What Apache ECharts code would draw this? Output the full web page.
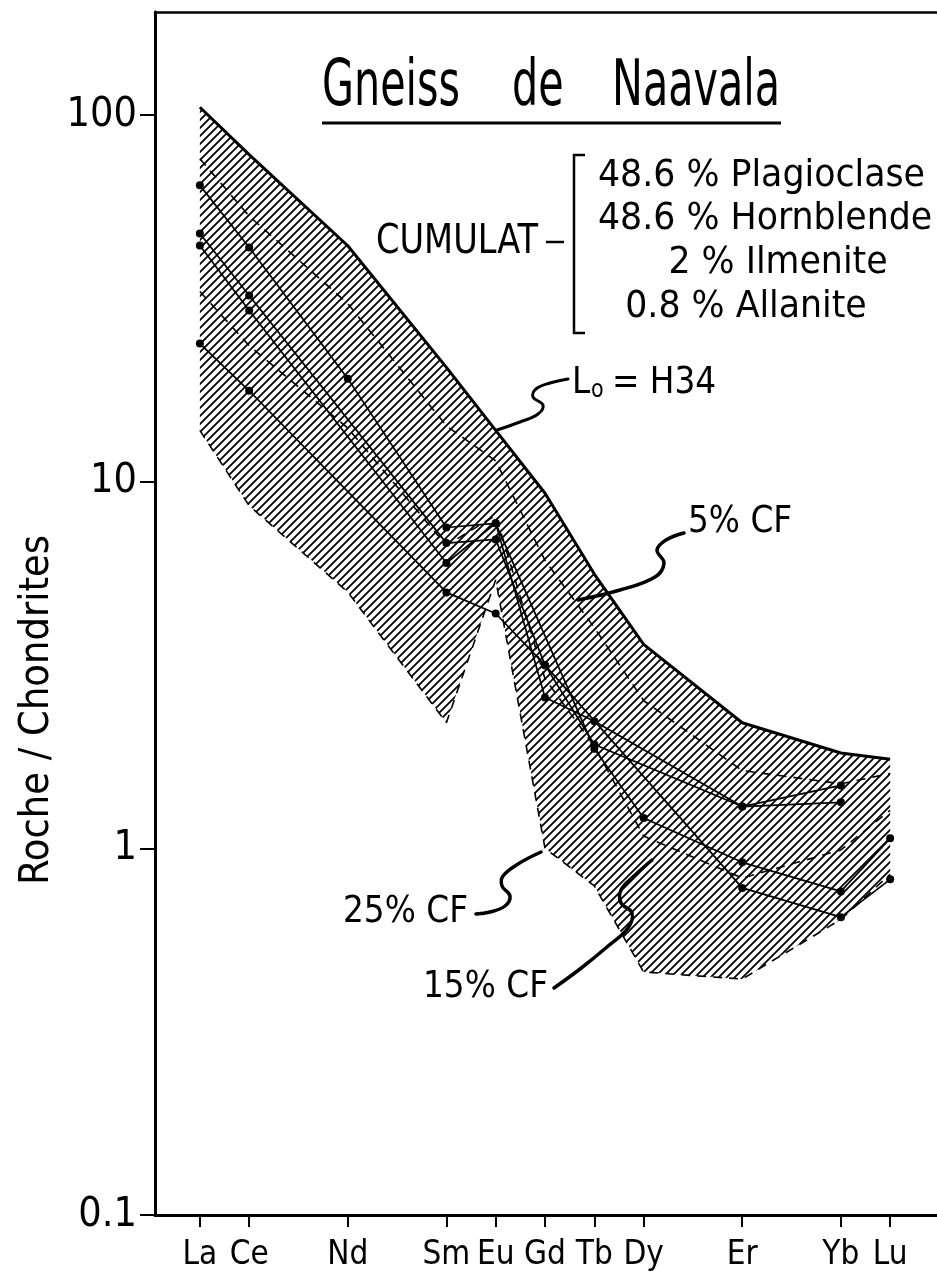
<!DOCTYPE html>
<html><head><meta charset="utf-8">
<script src="https://cdn.jsdelivr.net/npm/echarts@6/dist/echarts.min.js"></script>
<style>html,body{margin:0;padding:0;background:#fff}#c{width:937px;height:1284px}</style>
</head><body><div id="c"></div>
<script>
// ---------- data ----------
const elements      = ['La','Ce','Pr','Nd','Pm','Sm','Eu','Gd','Tb','Dy','Ho','Er','Tm','Yb','Lu'];
const atomicNumbers = [57,58,59,60,61,62,63,64,65,66,67,68,69,70,71];
const tickElements  = ['La','Ce','Nd','Sm','Eu','Gd','Tb','Dy','Er','Yb','Lu'];
const yTickValues   = [0.1, 1, 10, 100];
const yTickLabels   = ['0.1', '1', '10', '100'];

// model liquids (Roche / Chondrites)
const loH34 = [105, 78, null, 44, null, 20.5, 13.8, 9.3, 5.6, 3.6, null, 2.2, null, 1.82, 1.75];
const cf5   = [76, 53, null, 30.6, null, 14.2, 11.4, 6.1, 4.0, 2.53, null, 1.63, null, 1.50, 1.60];
const cf15  = [33, 23.5, null, 14, null, 6.7, 8.1, 2.9, 1.9, 1.08, null, 0.83, null, 0.99, 1.27];
const cf25  = [13.8, 8.6, null, 5.0, null, 2.2, 5.4, 1.0, 0.79, 0.46, null, 0.44, null, 0.64, 0.85];

// analysed samples
const sampleA = [64.3, 43.5, null, 19.1, null, 7.5, 7.7, 2.58, 2.22, null, null, 1.30, null, 1.485, null];
const sampleB = [47.5, 32.2, null, null, null, 6.8, 6.96, 3.16, 1.92, null, null, 1.30, null, 1.335, null];
const sampleC = [44.1, 29.3, null, null, null, 6.0, 7.7, null, 1.87, 1.21, null, 0.916, null, 0.763, 1.065];
const sampleD = [23.8, 17.7, null, null, null, 4.99, 4.37, 3.16, null, null, null, 0.78, null, 0.649, 0.823];

// ---------- helpers ----------
const FONT = '"DejaVu Sans Condensed", "DejaVu Sans", sans-serif';
function pairs(arr){ return atomicNumbers.map((z,i)=> arr[i]==null ? null : [z, arr[i]]).filter(Boolean); }
const tickZ = tickElements.map(e => atomicNumbers[elements.indexOf(e)]);

function hatchCanvas(){
  const s = 8, c = document.createElement('canvas');
  c.width = s; c.height = s;
  const g = c.getContext('2d');
  g.strokeStyle = '#000'; g.lineWidth = 1.8; g.lineCap = 'square';
  g.beginPath();
  g.moveTo(0, s); g.lineTo(s, 0);
  g.moveTo(-1, 1); g.lineTo(1, -1);
  g.moveTo(s-1, s+1); g.lineTo(s+1, s-1);
  g.stroke();
  return c;
}
const hatch = hatchCanvas();

const mctx = document.createElement('canvas').getContext('2d');
function measure(text, size){ mctx.font = size + 'px ' + FONT; return mctx.measureText(text).width; }
function scaleFor(text, width, size){ return width / measure(text, size); }
function txt(text, x1, yc, size, sx){
  return {type:'text', x:x1, y:yc, scaleX:sx, z:100,
    style:{text:text, fontSize:size, fontFamily:FONT, fill:'#000', align:'left', verticalAlign:'middle'}};
}
// text centred on xc with a given horizontal scale
function txtC(text, xc, yc, size, sx){
  return txt(text, xc - measure(text, size) * sx / 2, yc, size, sx);
}
function leader(points, w){
  return {type:'polyline', z:100, shape:{points:points, smooth:0.4},
    style:{stroke:'#000', lineWidth:w, fill:null, lineCap:'round'}};
}

function modelLine(name, arr, dashed, width){
  return {name:name, type:'line', data:pairs(arr), symbol:'none', z:3, silent:true,
    lineStyle:{color:'#000', width:width, type: dashed ? [9,7] : 'solid'}};
}
function sampleLine(name, arr){
  return {name:name, type:'line', data:pairs(arr), symbol:'circle', symbolSize:8, z:5, silent:true,
    itemStyle:{color:'#000'}, lineStyle:{color:'#000', width:1.7}};
}

const sTitle = scaleFor('Gneiss', 138, 64);
const sBlock = scaleFor('48.6 % Plagioclase', 327, 38);
const sCum   = scaleFor('CUMULAT', 162, 40);
const sNote  = scaleFor('25% CF', 125, 38);
const sName  = scaleFor('Roche / Chondrites', 350, 40);

const chart = echarts.init(document.getElementById('c'), null, {renderer:'canvas'});
const option = {
  animation:false,
  backgroundColor:'#fff',
  grid:{left:155, top:12, width:785, height:1203},
  xAxis:[{
    type:'value', min:56.09, max:71.95, position:'bottom',
    axisLine:{onZero:false, lineStyle:{color:'#000', width:3}},
    axisTick:{show:true, customValues:tickZ, length:12, lineStyle:{color:'#000', width:2}},
    axisLabel:{customValues:tickZ, margin:24, fontSize:33, fontFamily:FONT, color:'#000',
      formatter: v => elements[atomicNumbers.indexOf(Math.round(v))]},
    splitLine:{show:false}
  },{
    type:'value', min:56.09, max:71.95, position:'top',
    axisLine:{onZero:false, lineStyle:{color:'#000', width:2.5}},
    axisTick:{show:false}, axisLabel:{show:false}, splitLine:{show:false}
  }],
  yAxis:{
    type:'log', logBase:10, min:0.1, max:191,
    axisLine:{show:true, onZero:false, lineStyle:{color:'#000', width:3}},
    axisTick:{show:true, length:15, lineStyle:{color:'#000', width:2}},
    axisLabel:{margin:18, fontSize:41, fontFamily:FONT, color:'#000', showMaxLabel:false,
      formatter: v => { for (let i=0;i<yTickValues.length;i++){ if (Math.abs(Math.log10(v)-Math.log10(yTickValues[i]))<1e-6) return yTickLabels[i]; } return ''; }},
    splitLine:{show:false}
  },
  series:[
    {type:'custom', coordinateSystem:'cartesian2d', data:[[57,1]], silent:true, z:1, clip:true,
      renderItem:function(params, api){
        const up = pairs(loH34).map(p => api.coord(p));
        const lo = pairs(cf25).map(p => api.coord(p)).reverse();
        return {type:'polygon', shape:{points:up.concat(lo)},
          style:{fill:{image:hatch, repeat:'repeat'}, stroke:null}};
      }},
    modelLine('Lo = H34', loH34, false, 3),
    modelLine('5% CF', cf5, true, 1.6),
    modelLine('15% CF', cf15, true, 1.6),
    modelLine('25% CF', cf25, true, 1.6),
    sampleLine('A', sampleA), sampleLine('B', sampleB), sampleLine('C', sampleC), sampleLine('D', sampleD)
  ],
  graphic:[
    // y-axis title
    {type:'text', x:38, y:710, rotation:Math.PI/2, scaleX:sName, z:100,
      style:{text:'Roche / Chondrites', fontSize:40, fontFamily:FONT, fill:'#000', align:'center', verticalAlign:'middle'}},
    // chart title
    txt('Gneiss', 322, 88, 64, sTitle),
    txt('de', 512, 88, 64, sTitle),
    txt('Naavala', 780 - measure('Naavala', 64) * sTitle, 88, 64, sTitle),
    {type:'line', z:100, shape:{x1:322, y1:123, x2:781, y2:123}, style:{stroke:'#000', lineWidth:3}},
    // cumulate composition block
    txt('CUMULAT', 376, 243, 40, sCum),
    {type:'line', z:100, shape:{x1:546, y1:242, x2:564, y2:242}, style:{stroke:'#000', lineWidth:2.5}},
    {type:'polyline', z:100, shape:{points:[[585,155],[574,155],[574,333],[585,333]]}, style:{stroke:'#000', lineWidth:2.5, fill:null}},
    txt('48.6 % Plagioclase', 598, 176, 38, sBlock),
    txt('48.6 % Hornblende', 598, 219, 38, sBlock),
    txtC('2 % Ilmenite', 778, 263, 38, sBlock),
    txtC('0.8 % Allanite', 746, 307, 38, sBlock),
    // notes
    txt('L', 572, 383, 38, sNote),
    txt('o', 591, 391, 24, sNote),
    txt('= H34', 612, 383, 38, sNote),
    leader([[497,430],[520,422],[538,414],[543,405],[533,397],[536,389],[550,383],[568,379]], 3),
    txt('5% CF', 688, 522, 38, sNote),
    leader([[578,600],[620,590],[655,577],[664,563],[657,550],[666,540],[684,533]], 3.5),
    txt('25% CF', 343, 912, 38, sNote),
    leader([[541,852],[518,864],[503,876],[502,886],[510,896],[505,906],[490,912],[476,914]], 3.5),
    txt('15% CF', 548 - measure('15% CF', 38) * sNote, 987, 38, sNote),
    leader([[652,860],[634,876],[621,890],[621,903],[632,913],[628,928],[607,947],[580,969],[554,988]], 3.5)
  ]
};
chart.setOption(option);
</script>
</body></html>
